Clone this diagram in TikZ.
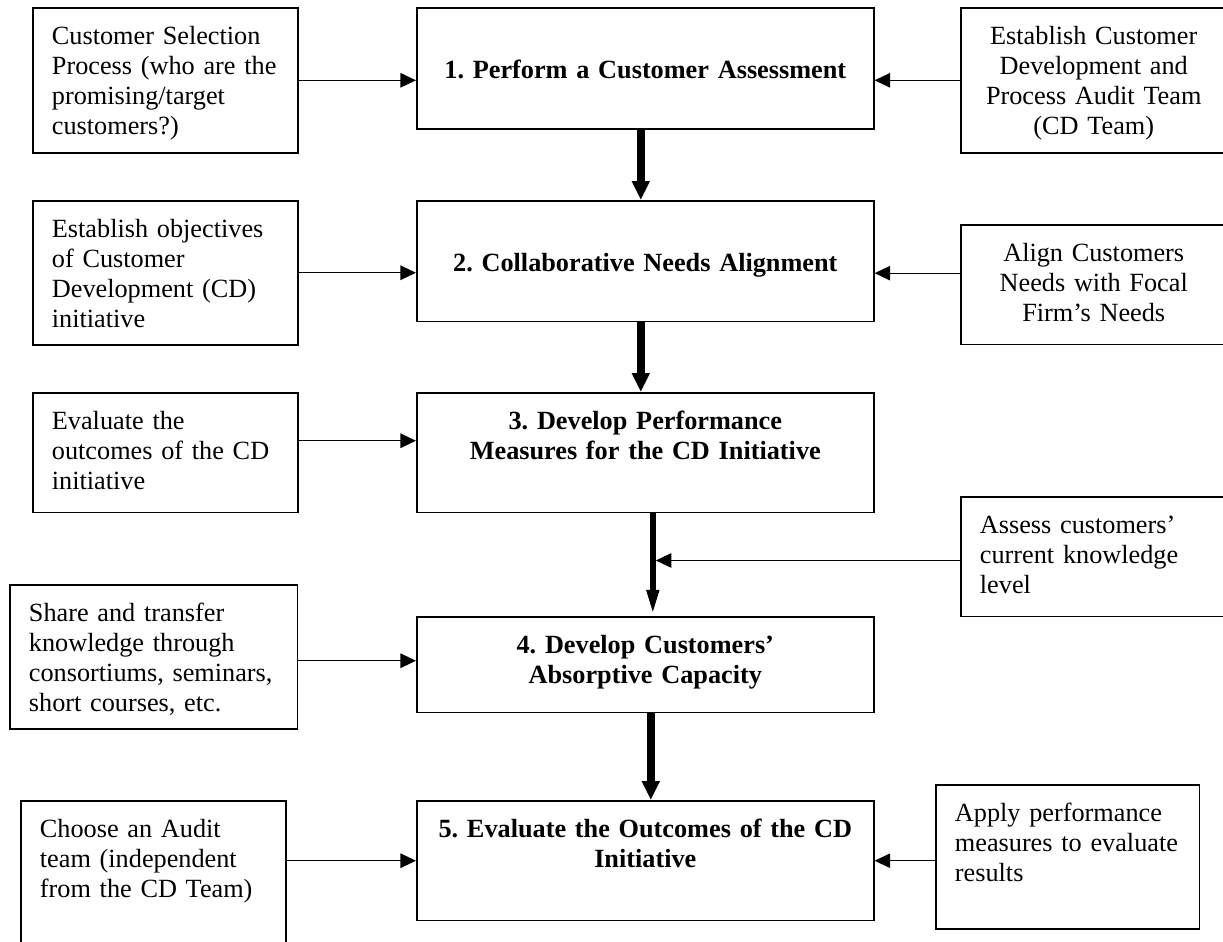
\documentclass[tikz,border=0pt]{standalone}
\usepackage{fontspec}
\setmainfont{Liberation Serif}
\usetikzlibrary{arrows.meta, calc}

\begin{document}
\begin{tikzpicture}[
        x=0.4494pt, y=-0.4494pt,
        box/.style={rectangle, draw, line width=0.7pt, anchor=north west, inner xsep=8.6pt, inner ysep=4pt,
            text height=12.4pt, font=\fontsize{11.8}{13.5}\selectfont\frenchspacing},
        sidebox/.style={box, align=left, text width=101.9pt},
        stepbox/.style={box, align=center, text width=188.2pt, font=\fontsize{11.8}{13.5}\selectfont\frenchspacing\bfseries},
        lowtext/.style={text height=27.9pt},
        link/.style={-{Triangle[length=7pt, width=6.5pt]}, line width=0.6pt},
        flow/.style={-{Triangle[length=8.5pt, width=7.6pt]}, line width=3.8pt},
        narrowflow/.style={-{Triangle[length=11.7pt, width=5pt]}, line width=2.7pt}
    ]
    \useasboundingbox (0,0) rectangle (1223,942);

    % Main Steps
    \node[stepbox, lowtext, text depth=18.5pt] (perform) at (416,7) {1. Perform a Customer Assessment};
    \node[stepbox, lowtext, text depth=18.4pt] (needs) at (416,200) {2. Collaborative Needs Alignment};
    \node[stepbox, text depth=33.5pt] (measures) at (416,392) {3. Develop Performance\\Measures for the CD Initiative};
    \node[stepbox, text depth=22.7pt] (capacity) at (416,616) {4. Develop Customers'\\Absorptive Capacity};
    \node[stepbox, text depth=33.5pt] (evaluate) at (416,800) {5. Evaluate the Outcomes of the CD\\Initiative};

    % --- Left Side Inputs ---
    \node[sidebox, text depth=44.8pt] (selection) at (32,7) {Customer Selection\\Process (who are the\\promising/target\\customers?)};
    \node[sidebox, text depth=44.3pt] (objectives) at (32,200) {Establish objectives\\of Customer\\Development (CD)\\initiative};
    \node[sidebox, text depth=33.5pt] (outcomes) at (32,392) {Evaluate the\\outcomes of the CD\\initiative};
    \node[sidebox, text width=112.2pt, text depth=44.3pt] (share) at (9,584) {Share and transfer\\knowledge through\\consortiums, seminars,\\short courses, etc.};
    \node[sidebox, text depth=51.5pt] (audit) at (20,800) {Choose an Audit\\team (independent\\from the CD Team)};

    % --- Right Side Inputs ---
    \node[sidebox, align=center, text width=102.3pt, text depth=44.8pt] (team) at (960,7) {Establish Customer\\Development and\\Process Audit Team\\(CD Team)};
    \node[sidebox, align=center, text width=102.3pt, text depth=33.5pt] (match) at (960,224) {Align Customers\\Needs with Focal\\Firm's Needs};
    \node[sidebox, text width=102.3pt, text depth=33.5pt] (knowledge) at (960,496) {Assess customers'\\current knowledge\\level};
    \node[sidebox, text width=101.4pt, text depth=44.3pt] (apply) at (935,784) {Apply performance\\measures to evaluate\\results};

    % Entry points
    \coordinate (r2in) at ($(needs.east)+(0,12)$);
    \coordinate (l3in) at ($(measures.west)+(0,-12)$);
    \coordinate (l4in) at ($(share.east)+(0,4)$);
    \coordinate (kn) at ($(measures.south)+(10.5,47)$);

    % --- Side arrows ---
    \draw[link] (selection.east) -- (selection.east -| perform.west);
    \draw[link] (team.west) -- (team.west -| perform.east);
    \draw[link] (objectives.east) -- (objectives.east -| needs.west);
    \draw[link] (r2in -| match.west) -- (r2in);
    \draw[link] (l3in -| outcomes.east) -- (l3in);
    \draw[link] (kn -| knowledge.west) -- (kn);
    \draw[link] (l4in) -- (l4in -| capacity.west);
    \draw[link] (evaluate.west -| audit.east) -- (evaluate.west);
    \draw[link] (evaluate.east -| apply.west) -- (evaluate.east);

    % --- Main flow ---
    \draw[flow] ($(perform.south)+(-4.5,0)$) -- ($(needs.north)+(-4.5,0)$);
    \draw[flow] ($(needs.south)+(-4.5,0)$) -- ($(measures.north)+(-4.5,0)$);
    \draw[narrowflow] ($(measures.south)+(7.5,0)$) -- ($(capacity.north)+(7.5,0)$);
    \draw[flow] ($(capacity.south)+(5.5,0)$) -- ($(evaluate.north)+(5.5,0)$);

\end{tikzpicture}
\end{document}
